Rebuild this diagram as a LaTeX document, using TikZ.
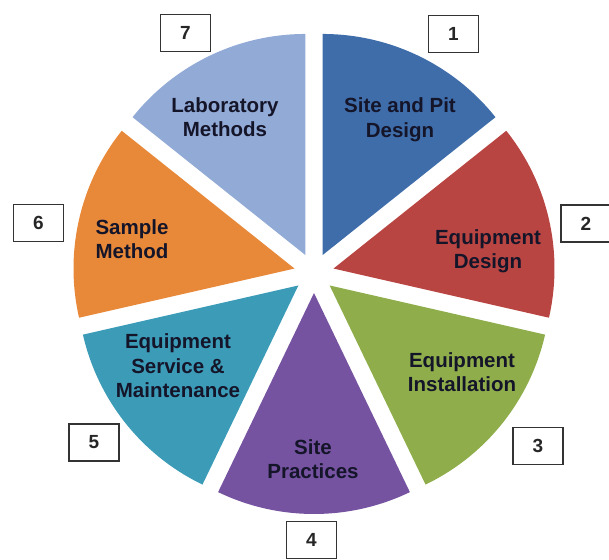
\documentclass[tikz,border=0pt]{standalone}
\usepackage{fontspec}
\setmainfont{Liberation Sans}
\usetikzlibrary{calc}
\definecolor{cA}{HTML}{3F6DAA}
\definecolor{cB}{HTML}{B84542}
\definecolor{cC}{HTML}{8FAE4B}
\definecolor{cD}{HTML}{7553A0}
\definecolor{cE}{HTML}{3C9CB8}
\definecolor{cF}{HTML}{E8893A}
\definecolor{cG}{HTML}{92AAD6}
\definecolor{txt}{HTML}{15152A}
\tikzset{
  lbl/.style={font=\fontsize{20.5}{24.5}\selectfont\bfseries, text=txt, align=center, inner sep=0pt},
  numbox/.style={draw=black!80, line width=1.3pt, fill=white, minimum width=50pt, minimum height=37pt,
    inner sep=0pt, font=\fontsize{19}{22}\selectfont\bfseries, text=black!85},
  slice/.style={draw=white, line width=0.8pt}
}
\begin{document}
\begin{tikzpicture}[x=1pt,y=1pt]
\useasboundingbox (0,0) rectangle (609,559);
\coordinate (C) at (314,286);
\def\R{221}
\def\d{20}
\foreach \k/\col in {1/cA,2/cB,3/cC,4/cD,5/cE,6/cF,7/cG}{
  \pgfmathsetmacro{\a}{90-(\k-1)*360/7}
  \pgfmathsetmacro{\b}{\a-360/7}
  \pgfmathsetmacro{\m}{\a-180/7}
  \coordinate (p\k) at ($(C)+(\m:\d)$);
  \fill[\col] (p\k) -- +(\a:\R) arc[start angle=\a, end angle=\b, radius=\R] -- cycle;
}
\node[lbl] (t1) at (400,439) {Site and Pit\\Design};
\node[lbl] (t2) at (488,308) {Equipment\\Design};
\node[lbl] (t3) at (462,187) {Equipment\\Installation};
\node[lbl] (t4) at (313,100) {Site\\Practices};
\node[lbl] (t5) at (178,193) {Equipment\\Service \&\\Maintenance};
\node[lbl] (t6) at (132,320) {Sample\\Method};
\node[lbl] (t7) at (225,442) {Laboratory\\Methods};
\node[numbox] (n1) at (453.5,525) {1};
\node[numbox] (n2) at (586,335.5) {2};
\node[numbox] (n3) at (538,113) {3};
\node[numbox] (n4) at (311.5,19) {4};
\node[numbox] (n5) at (94,116.5) {5};
\node[numbox] (n6) at (38.5,336) {6};
\node[numbox] (n7) at (185.5,526) {7};
\end{tikzpicture}
\end{document}
